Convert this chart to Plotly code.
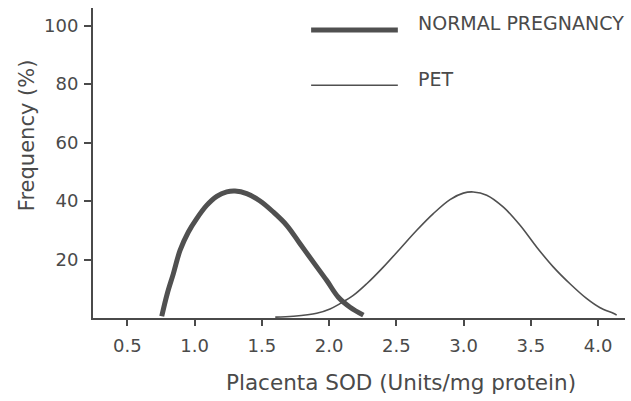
import plotly.graph_objects as go

# Data
normal_x = [0.756, 0.797, 0.842, 0.892, 0.954, 1.016, 1.090, 1.165, 1.239, 1.301, 1.388,
            1.487, 1.586, 1.685, 1.784, 1.883, 1.983, 2.069, 2.156, 2.255]
normal_y = [0.6, 8.3, 15.1, 23.1, 29.4, 34.0, 38.5, 41.6, 43.1, 43.4, 42.5,
            40.0, 36.2, 31.7, 25.4, 19.1, 12.8, 7.1, 3.7, 1.0]

pet_x = [1.60, 1.734, 1.908, 2.007, 2.081, 2.180, 2.280, 2.403, 2.528, 2.652, 2.775, 2.899,
         2.998, 3.072, 3.172, 3.296, 3.420, 3.544, 3.668, 3.791, 3.916, 4.015, 4.113, 4.138]
pet_y = [0.3, 0.6, 1.6, 3.1, 4.9, 7.7, 11.7, 17.4, 23.7, 30.0, 35.7, 40.5,
         42.7, 43.1, 42.0, 37.9, 31.7, 24.2, 17.4, 11.7, 6.6, 3.5, 1.6, 1.0]

x_ticks = [0.5, 1.0, 1.5, 2.0, 2.5, 3.0, 3.5, 4.0]
x_tick_labels = ["0.5", "1.0", "1.5", "2.0", "2.5", "3.0", "3.5", "4.0"]
y_ticks = [20, 40, 60, 80, 100]
y_tick_labels = ["20", "40", "60", "80", "100"]

series_names = ["NORMAL PREGNANCY", "PET"]

INK = "#4a4a4a"
FONT = "DejaVu Sans"

fig = go.Figure()
fig.add_trace(go.Scatter(x=normal_x, y=normal_y, mode="lines", name=series_names[0],
                         line=dict(color="#505050", width=5, shape="spline", smoothing=1.0)))
fig.add_trace(go.Scatter(x=pet_x, y=pet_y, mode="lines", name=series_names[1],
                         line=dict(color="#505050", width=1.6, shape="spline", smoothing=1.0)))

# Legend drawn as decorations (paper coordinates)
legend_rows = [(0.929, 0.952, 5), (0.751, 0.772, 1.6)]
for (ly, ty, w), name in zip(legend_rows, series_names):
    fig.add_shape(type="line", xref="paper", yref="paper", x0=0.41, x1=0.573, y0=ly, y1=ly,
                  line=dict(color="#505050", width=w))
    fig.add_annotation(xref="paper", yref="paper", x=0.607, y=ty, text=name, showarrow=False,
                       xanchor="left", yanchor="middle",
                       font=dict(family=FONT, size=19, color=INK))

# Axis titles placed as annotations to match their positions
fig.add_annotation(xref="paper", yref="paper", x=-0.124, y=0.59, text="Frequency (%)",
                   textangle=-90, showarrow=False, xanchor="center", yanchor="middle",
                   font=dict(family=FONT, size=21, color=INK))
fig.add_annotation(xref="paper", yref="paper", x=0.5795, y=-0.207,
                   text="Placenta SOD (Units/mg protein)",
                   showarrow=False, xanchor="center", yanchor="middle",
                   font=dict(family=FONT, size=21.5, color=INK))

fig.update_layout(
    width=631, height=401, autosize=False,
    margin=dict(l=93, r=6, t=8, b=83),
    paper_bgcolor="white", plot_bgcolor="white",
    showlegend=False,
    font=dict(family=FONT, size=18, color=INK),
)
fig.update_xaxes(
    range=[0.245, 4.20], tickvals=x_ticks, ticktext=x_tick_labels,
    showgrid=False, zeroline=False, showline=True, linecolor=INK, linewidth=2,
    ticks="outside", ticklen=6, tickwidth=2, tickcolor=INK, ticklabelstandoff=4,
)
fig.update_yaxes(
    range=[0, 106], tickvals=y_ticks, ticktext=y_tick_labels,
    showgrid=False, zeroline=False, showline=True, linecolor=INK, linewidth=2,
    ticks="outside", ticklen=7, tickwidth=2, tickcolor=INK, ticklabelstandoff=2,
)

fig.write_html("out.html")
